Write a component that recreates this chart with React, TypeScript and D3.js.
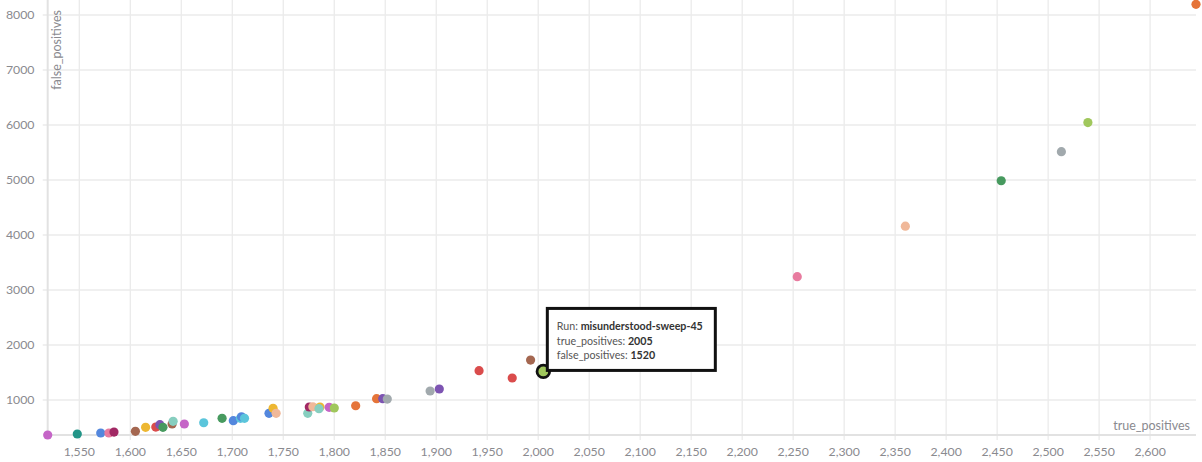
import React from "react";
import * as d3 from "d3";

const W = 1202;
const H = 462;

const truePositives = [
  1519, 1548, 1571, 1579, 1584, 1605, 1615, 1625, 1629, 1632, 1641, 1642, 1653, 1672, 1690,
  1701, 1708, 1709, 1712, 1736, 1740, 1743, 1774, 1775.5, 1779, 1786, 1785, 1795, 1800, 1821,
  1841.5, 1847.5, 1852, 1894, 1903, 1942, 1974.5, 1992.5, 2005, 2254, 2360, 2454, 2513, 2539, 2645,
];
const falsePositives = [
  364, 382, 400, 400, 418, 431, 504, 509, 551, 504, 564, 613, 564, 587, 667,
  624, 667, 696, 667, 758, 849, 758, 758, 873, 878, 873, 842, 867, 855, 896,
  1024, 1024, 1018, 1164, 1200, 1533, 1400, 1727, 1520, 3242, 4160, 4987, 5515, 6045, 8195,
];
const runColors = [
  "violet", "teal", "blue", "pink", "maroon", "brown", "yellow", "red", "purple", "green", "brown", "mint", "violet", "cyan", "green",
  "blue", "cyan", "blue", "cyan", "blue", "yellow", "peach", "mint", "maroon", "peach", "yellow", "mint", "violet", "lime", "orange",
  "orange", "purple", "gray", "gray", "purple", "red", "red", "brown", "lime", "pink", "peach", "green", "gray", "lime", "orange",
];
const palette: Record<string, string> = {
  blue: "#5387DD",
  red: "#DA4C4C",
  green: "#479A5F",
  purple: "#7D54B2",
  pink: "#E87B9F",
  orange: "#E57439",
  mint: "#87CEBF",
  violet: "#C565C7",
  yellow: "#EDB732",
  lime: "#A0C75C",
  teal: "#229487",
  brown: "#A46750",
  maroon: "#A12864",
  peach: "#F0B899",
  cyan: "#5BC5DB",
  gray: "#A1A9AD",
};
const xTicks = [1550, 1600, 1650, 1700, 1750, 1800, 1850, 1900, 1950, 2000, 2050, 2100, 2150, 2200, 2250, 2300, 2350, 2400, 2450, 2500, 2550, 2600];
const yTicks = [1000, 2000, 3000, 4000, 5000, 6000, 7000, 8000];
const highlighted = { run: "misunderstood-sweep-45", index: 38 };

const FONT = "Lato, 'Noto Sans', sans-serif";

export default function App() {
  const left = 47.7, right = 1196, top = 4.3, bottom = 435;
  const x = d3.scaleLinear().domain(d3.extent(truePositives) as [number, number]).range([left, right]);
  const y = d3.scaleLinear().domain(d3.extent(falsePositives) as [number, number]).range([bottom, top]);
  const fmt = d3.format(",");
  const grid = "#ebebeb";
  const hx = x(truePositives[highlighted.index]);
  const hy = y(falsePositives[highlighted.index]);
  const bx = hx + 4, by = hy - 63;
  return (
    <div style={{ position: "absolute", left: 0, top: 0, width: W, height: H, background: "#fff" }}>
      <svg width={W} height={H} style={{ display: "block", fontFamily: FONT }}>
        {xTicks.map((t) => (
          <line key={"gx" + t} x1={x(t)} x2={x(t)} y1={0} y2={bottom + 5} stroke={grid} strokeWidth={1.3} />
        ))}
        {yTicks.map((t) => (
          <line key={"gy" + t} x1={left - 5} x2={right} y1={y(t)} y2={y(t)} stroke={grid} strokeWidth={1.3} />
        ))}
        <line x1={left} x2={left} y1={0} y2={bottom} stroke="#e2e2e2" strokeWidth={2} />
        <line x1={left} x2={right} y1={bottom} y2={bottom} stroke="#e2e2e2" strokeWidth={2} />
        {xTicks.map((t) => (
          <text key={"tx" + t} x={x(t)} y={456} textAnchor="middle" fontSize={12.3} fill="#8a8a8f">
            {fmt(t)}
          </text>
        ))}
        {yTicks.map((t) => (
          <text key={"ty" + t} x={34.5} y={y(t) + 4.3} textAnchor="end" fontSize={12.3} fill="#8a8a8f">
            {t}
          </text>
        ))}
        <text transform={`translate(61,10) rotate(-90)`} textAnchor="end" fontSize={12.5} fill="#8a8a8f">
          false_positives
        </text>
        <text x={1190} y={430} textAnchor="end" fontSize={12.5} fill="#8a8a8f">
          true_positives
        </text>
        {truePositives.map((v, i) => (
          <circle key={"p" + i} cx={x(v)} cy={y(falsePositives[i])} r={4.6} fill={palette[runColors[i]]} />
        ))}
        <circle cx={hx} cy={hy} r={6.3} fill={palette[runColors[highlighted.index]]} stroke="#111" strokeWidth={2.8} />
        <rect x={bx} y={by} width={168} height={62} fill="#fff" stroke="#111" strokeWidth={3} />
        <g fontSize={10.7} fill="#555">
          <text x={bx + 9.5} y={by + 22}>
            Run: <tspan fontWeight="bold" fill="#333">{highlighted.run}</tspan>
          </text>
          <text x={bx + 9.5} y={by + 36.5}>
            true_positives: <tspan fontWeight="bold" fill="#333">{truePositives[highlighted.index]}</tspan>
          </text>
          <text x={bx + 9.5} y={by + 51}>
            false_positives: <tspan fontWeight="bold" fill="#333">{falsePositives[highlighted.index]}</tspan>
          </text>
        </g>
      </svg>
    </div>
  );
}
